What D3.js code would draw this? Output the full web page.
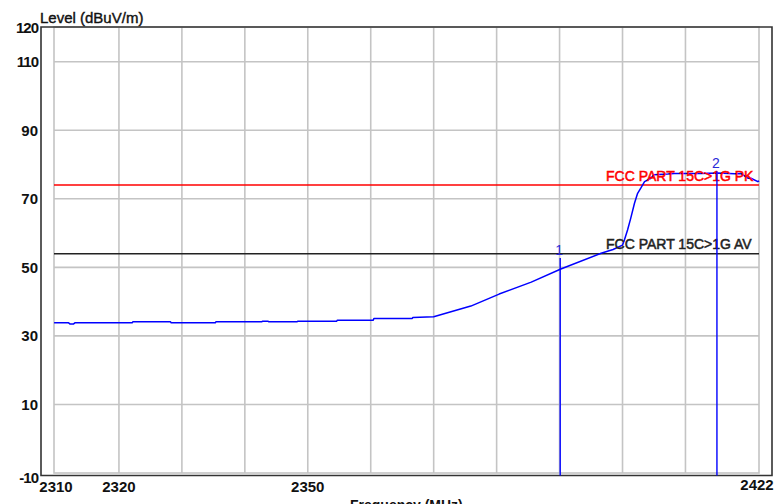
<!DOCTYPE html>
<html>
<head>
<meta charset="utf-8">
<script src="https://cdn.jsdelivr.net/npm/d3@7/dist/d3.min.js"></script>
<style>
  html, body { margin: 0; padding: 0; background: #fff; }
  svg { display: block; font-family: "Liberation Sans", Arial, sans-serif; }
</style>
</head>
<body>
<svg id="chart" width="778" height="504"></svg>
<script>
// ---- data ----
const freqMHz = [2309.7, 2312.0, 2312.2, 2312.8, 2313.0, 2322.1, 2322.2, 2328.2, 2328.3, 2335.3,
  2335.4, 2342.7, 2342.8, 2343.7, 2343.8, 2348.3, 2348.4, 2354.6, 2354.7, 2360.4,
  2360.5, 2366.6, 2366.7, 2370.0, 2375.9, 2380.4, 2385.5, 2390.2, 2396.6, 2398.5,
  2400.0, 2400.3, 2400.8, 2401.3, 2401.9, 2402.4, 2402.9, 2403.5, 2404.5, 2405.0,
  2407.2, 2408.2, 2412.4, 2415.1, 2417.8, 2418.8, 2419.9, 2420.4, 2421.5, 2421.7];
const levelDb = [33.8, 33.8, 33.5, 33.5, 33.8, 33.8, 34.1, 34.1, 33.8, 33.8,
  34.1, 34.1, 34.3, 34.3, 34.1, 34.1, 34.3, 34.3, 34.6, 34.6,
  35.1, 35.1, 35.4, 35.6, 38.7, 42.2, 45.7, 49.5, 54.1, 55.2,
  56.5, 58.0, 60.9, 64.3, 68.7, 71.6, 73.1, 75.0, 76.0, 77.0,
  77.2, 77.4, 77.4, 77.5, 77.3, 77.4, 76.0, 76.0, 75.0, 75.2];

const limitNames = ["FCC PART 15C>1G PK", "FCC PART 15C>1G AV"];
const limitValues = [74, 54];
const limitColors = ["#ff0000", "#222222"];

const markerIds = ["1", "2"];
const markerFreq = [2390.1, 2415.0];
const markerTop = [52.7, 78.0];

const yTickValues = [120, 110, 90, 70, 50, 30, 10, -10];
const yGridValues = [110, 90, 70, 50, 30, 10];
const xGridValues = [2320, 2330, 2340, 2350, 2360, 2370, 2380, 2390, 2400, 2410];
const xTickValues = [2310, 2320, 2350, 2422];
const xDomain = [2310, 2422];
const yDomain = [-10, 120];

// ---- layout ----
const svg = d3.select("#chart");
const outer = { left: 41, right: 772, top: 27, bottom: 475.5 };
const inner = { left: 54, right: 759, top: 27, bottom: 473 };

const x = d3.scaleLinear().domain(xDomain).range([56, 761]);
const y = d3.scaleLinear().domain(yDomain).range([473, 27.4]);

// grid
const gridColor = "#c4c4c4";
svg.append("g").selectAll("line").data(xGridValues).join("line")
  .attr("x1", d => x(d)).attr("x2", d => x(d))
  .attr("y1", inner.top).attr("y2", inner.bottom)
  .attr("stroke", gridColor).attr("stroke-width", 1.6);
svg.append("g").selectAll("line").data(yGridValues).join("line")
  .attr("x1", inner.left).attr("x2", inner.right)
  .attr("y1", d => y(d)).attr("y2", d => y(d))
  .attr("stroke", gridColor).attr("stroke-width", 1.6);

// inner frame
svg.append("rect")
  .attr("x", inner.left).attr("y", inner.top)
  .attr("width", inner.right - inner.left).attr("height", inner.bottom - inner.top)
  .attr("fill", "none").attr("stroke", gridColor).attr("stroke-width", 1.6);

// outer frame
svg.append("path")
  .attr("d", `M${outer.left},${outer.top}H${outer.right}V${outer.bottom}H${outer.left}Z`)
  .attr("fill", "none").attr("stroke", "#333").attr("stroke-width", 1.6);

// limit lines
const limits = limitValues.map((v, i) => ({ v, name: limitNames[i], color: limitColors[i] }));
svg.append("g").selectAll("line").data(limits).join("line")
  .attr("x1", inner.left).attr("x2", inner.right)
  .attr("y1", d => y(d.v)).attr("y2", d => y(d.v))
  .attr("stroke", d => d.color).attr("stroke-width", 1.5);

// trace
const pts = freqMHz.map((f, i) => [f, levelDb[i]]);
svg.append("path")
  .datum(pts)
  .attr("fill", "none")
  .attr("stroke", "#0000ff")
  .attr("stroke-width", 1.5)
  .attr("stroke-linejoin", "round")
  .attr("d", d3.line().x(d => x(d[0])).y(d => y(d[1])));

// limit labels
svg.append("g").selectAll("text").data(limits).join("text")
  .attr("x", 606).attr("y", d => y(d.v) - 4.5)
  .attr("fill", d => d.color)
  .attr("stroke", d => d.color).attr("stroke-width", 0.5)
  .attr("font-size", 14)
  .text(d => d.name);

// markers
const markers = markerIds.map((id, i) => ({ id, f: markerFreq[i], top: markerTop[i] }));
svg.append("g").selectAll("line").data(markers).join("line")
  .attr("x1", d => x(d.f)).attr("x2", d => x(d.f))
  .attr("y1", d => y(d.top)).attr("y2", outer.bottom)
  .attr("stroke", "#0000ff").attr("stroke-width", 1.4);
svg.append("g").selectAll("text").data(markers).join("text")
  .attr("x", d => x(d.f) - 1).attr("y", d => y(d.top) - 3.5)
  .attr("text-anchor", "middle")
  .attr("fill", "#2a2ad8")
  .attr("font-size", 14)
  .text(d => d.id);

// y tick labels
svg.append("g").selectAll("text").data(yTickValues).join("text")
  .attr("x", 38)
  .attr("y", d => y(d) + (d === -10 ? 5 : 0))
  .attr("dy", "0.36em")
  .attr("text-anchor", "end")
  .attr("font-size", 15).attr("font-weight", "bold")
  .attr("letter-spacing", d => String(d).length >= 3 ? -1 : 0)
  .attr("fill", "#111")
  .text(d => d);

// x tick labels
svg.append("g").selectAll("text").data(xTickValues).join("text")
  .attr("x", (d, i) => i === xTickValues.length - 1 ? x(d) - 4 : x(d))
  .attr("y", (d, i) => i === xTickValues.length - 1 ? 490 : 492)
  .attr("text-anchor", "middle")
  .attr("font-size", 15).attr("font-weight", "bold")
  .attr("fill", "#111")
  .text(d => d);

// axis titles
svg.append("text")
  .attr("x", 40).attr("y", 22.5)
  .attr("font-size", 15)
  .attr("fill", "#111").attr("stroke", "#111").attr("stroke-width", 0.4)
  .text("Level (dBuV/m)");
svg.append("text")
  .attr("x", 350).attr("y", 510)
  .attr("font-size", 14).attr("font-weight", "bold")
  .attr("fill", "#111")
  .text("Frequency (MHz)");
</script>
</body>
</html>
